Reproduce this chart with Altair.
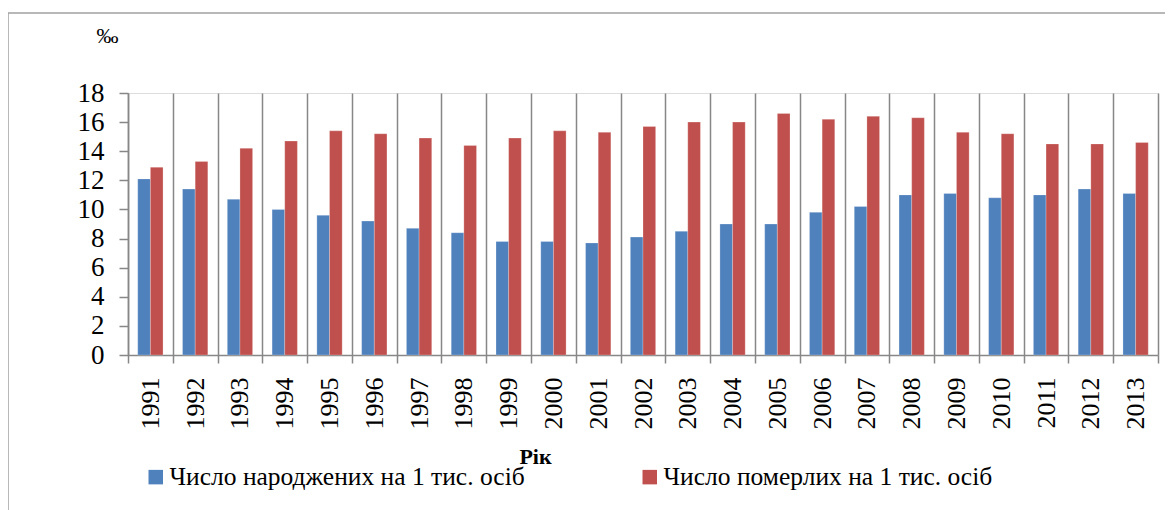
import altair as alt
import pandas as pd

years = [str(y) for y in range(1991, 2014)]
births = [12.1, 11.4, 10.7, 10.0, 9.6, 9.2, 8.7, 8.4, 7.8, 7.8, 7.7, 8.1,
          8.5, 9.0, 9.0, 9.8, 10.2, 11.0, 11.1, 10.8, 11.0, 11.4, 11.1]
deaths = [12.9, 13.3, 14.2, 14.7, 15.4, 15.2, 14.9, 14.4, 14.9, 15.4, 15.3, 15.7,
          16.0, 16.0, 16.6, 16.2, 16.4, 16.3, 15.3, 15.2, 14.5, 14.5, 14.6]
series = ["Число народжених на 1 тис. осіб", "Число померлих на 1 тис. осіб"]
colors = ["#4F81BD", "#C0504D"]

rows = []
for i, y in enumerate(years):
    rows.append({"year": y, "series": series[0], "value": births[i]})
    rows.append({"year": y, "series": series[1], "value": deaths[i]})
df = pd.DataFrame(rows)

W, H = 1030, 262
SERIF = "Liberation Serif"
GRAY = "#878787"

x_enc = alt.X(
    "year:N",
    sort=years,
    scale=alt.Scale(paddingInner=0, paddingOuter=0),
    axis=alt.Axis(
        title="Рік",
        titleFont=SERIF, titleFontSize=22, titleFontWeight="bold", titleColor="black",
        titleX=407, titleY=101, titleBaseline="middle", titleAlign="center",
        labelAngle=270, labelFont=SERIF, labelFontSize=26, labelColor="black",
        labelPadding=14, labelBaseline="middle", labelAlign="right",
        tickBand="extent", tickSize=8, tickColor=GRAY, tickWidth=1.5,
        domainColor=GRAY, domainWidth=1.5,
        grid=True, gridColor=GRAY, gridWidth=1.5,
    ),
)

bars = alt.Chart(df).mark_bar(stroke="white", strokeWidth=0.4, strokeOpacity=0.6).encode(
    x=x_enc,
    xOffset=alt.XOffset("series:N", sort=series,
                        scale=alt.Scale(paddingInner=0, paddingOuter=0.77)),
    y=alt.Y(
        "value:Q",
        scale=alt.Scale(domain=[0, 18], nice=False),
        axis=alt.Axis(
            values=list(range(0, 19, 2)),
            title="‰", titleAngle=0, titleFont=SERIF, titleFontSize=22,
            titleFontWeight="normal", titleColor="black",
            titleX=-21, titleY=-58, titleAlign="center", titleBaseline="middle",
            labelFont=SERIF, labelFontSize=27, labelColor="black", labelPadding=15,
            tickSize=9, tickColor=GRAY, tickWidth=1.5,
            domainColor=GRAY, domainWidth=1.5, grid=False,
        ),
    ),
    color=alt.Color(
        "series:N",
        sort=series,
        scale=alt.Scale(domain=series, range=colors),
        legend=alt.Legend(
            title=None, orient="none", legendX=15, legendY=371, direction="horizontal",
            symbolType="square", symbolSize=210, symbolStrokeWidth=0,
            labelFont=SERIF, labelFontSize=25.5, labelColor="black",
            columnPadding=112, symbolOffset=0, padding=0, labelOffset=1,
            labelLimit=0,
        ),
    ),
)

frame_top = alt.Chart(pd.DataFrame({"k": [0]})).mark_rule(color="#a0a0a0", strokeWidth=1.5).encode(
    x=alt.value(-120), x2=alt.value(W + 60), y=alt.value(-80)
)
frame_left = alt.Chart(pd.DataFrame({"k": [0]})).mark_rule(color="#a0a0a0", strokeWidth=1.5).encode(
    x=alt.value(-120), y=alt.value(-80), y2=alt.value(H + 200)
)

chart = alt.layer(bars, frame_top, frame_left).properties(
    width=W, height=H,
    autosize=alt.AutoSizeParams(type="none"),
    padding={"left": 120, "top": 85, "right": 7, "bottom": 155},
).configure_view(stroke=None).configure(background="white")

chart.save("out.html", embed_options={"renderer": "svg", "actions": False})
